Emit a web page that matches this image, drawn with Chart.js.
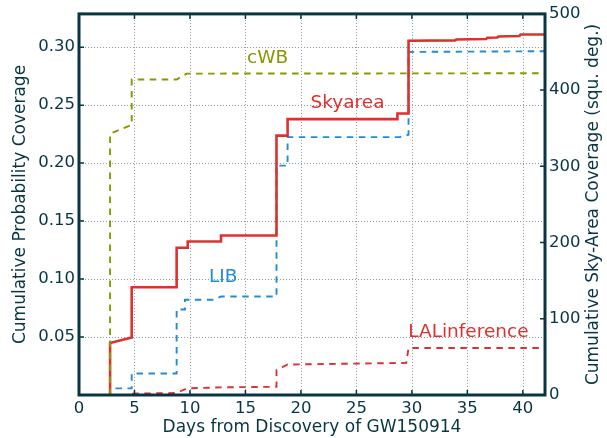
<!DOCTYPE html>
<html>
<head>
<meta charset="utf-8">
<script src="https://cdn.jsdelivr.net/npm/chart.js@4.4.1/dist/chart.umd.min.js"></script>
<style>
html,body{margin:0;padding:0;background:#fff;}
#wrap{width:607px;height:438px;position:relative;}
</style>
</head>
<body>
<div id="wrap"><canvas id="c" width="607" height="438"></canvas></div>
<script>
// ---- data ----
const cwbDays   = [2.8, 2.8, 4.75, 4.75, 8.8, 9.7, 42];
const cwbProb   = [0, 0.2253, 0.2330, 0.2721, 0.2721, 0.2772, 0.2775];

const skyDays   = [2.8, 2.8, 4.75, 4.75, 8.8, 8.8, 9.8, 9.8, 12.8, 12.8, 17.8, 17.8, 18.8, 18.8, 28.7, 28.7, 29.7, 29.7, 33.9, 34.0, 36.7, 36.8, 37.7, 37.8, 39.7, 39.8, 42];
const skyArea   = [0, 68.3, 75.3, 141.4, 141.4, 193.2, 193.2, 201.4, 201.4, 209.3, 209.3, 340.3, 340.3, 362, 362, 369.4, 369.4, 464.8, 465.3, 466.5, 467.0, 468.7, 469.0, 470.4, 471.0, 473.0, 473.0];

const libDays   = [2.8, 2.8, 4.75, 4.75, 8.8, 8.8, 9.55, 9.55, 12.1, 12.8, 17.8, 17.8, 18.8, 18.8, 28.9, 29.7, 29.7, 42];
const libProb   = [0, 0.0057, 0.0057, 0.0186, 0.0186, 0.0738, 0.0738, 0.0821, 0.0821, 0.0849, 0.0849, 0.1978, 0.1978, 0.2224, 0.2224, 0.2245, 0.2959, 0.2965];

const laDays    = [4.8, 8.8, 9.7, 12.8, 17.8, 17.8, 18.8, 29.5, 29.7, 42];
const laProb    = [0.0012, 0.0017, 0.0057, 0.0066, 0.0071, 0.0214, 0.0263, 0.0277, 0.0406, 0.0406];

const xTicks     = [0, 5, 10, 15, 20, 25, 30, 35, 40];
const leftTicks  = [0.05, 0.10, 0.15, 0.20, 0.25, 0.30];
const rightTicks = [0, 100, 200, 300, 400, 500];

const seriesNames = ['cWB', 'Skyarea', 'LIB', 'LALinference'];
const xTitle = 'Days from Discovery of GW150914';
const leftTitle = 'Cumulative Probability Coverage';
const rightTitle = 'Cumulative Sky-Area Coverage (squ. deg.)';

// ---- styling ----
const INK = '#073642';
const OLIVE = '#859900', RED = '#dc322f', BLUE = '#268bd2';
const FONT = "'DejaVu Sans', sans-serif";
const DASH = [6.5, 5.5];

const labelPos = [
  {text: seriesNames[0], x: 17.0, y: 0.2907, color: OLIVE},
  {text: seriesNames[1], x: 24.2, y: 0.2521, color: RED},
  {text: seriesNames[2], x: 13.0, y: 0.1012, color: BLUE},
  {text: seriesNames[3], x: 35.1, y: 0.0540, color: RED}
];

function pts(xs, ys){ return xs.map((x,i)=>({x:x, y:ys[i]})); }

const frame = {
  id: 'frame',
  beforeDatasetsDraw(chart){
    const ctx = chart.ctx, a = chart.chartArea;
    const sx = chart.scales.x, sl = chart.scales.y;
    ctx.save();
    ctx.strokeStyle = '#8a9999'; ctx.lineWidth = 1; ctx.setLineDash([1,2]);
    ctx.beginPath();
    xTicks.forEach(v => {
      const p = Math.round(sx.getPixelForValue(v)) + 0.5;
      if (v > 0) { ctx.moveTo(p, a.top); ctx.lineTo(p, a.bottom); }
    });
    leftTicks.forEach(v => {
      const p = Math.round(sl.getPixelForValue(v)) + 0.5;
      ctx.moveTo(a.left, p); ctx.lineTo(a.right, p);
    });
    ctx.stroke();
    ctx.restore();
  },
  afterDatasetsDraw(chart){
    const ctx = chart.ctx, a = chart.chartArea;
    const sx = chart.scales.x, sl = chart.scales.y, sr = chart.scales.y2;
    ctx.save();
    // labels
    ctx.font = "18.5px " + FONT;
    ctx.textAlign = 'center'; ctx.textBaseline = 'middle';
    labelPos.forEach(l => {
      ctx.fillStyle = l.color;
      ctx.fillText(l.text, sx.getPixelForValue(l.x), sl.getPixelForValue(l.y));
    });
    // inward ticks
    ctx.strokeStyle = INK; ctx.lineWidth = 1.5;
    ctx.beginPath();
    xTicks.forEach(v => {
      const p = sx.getPixelForValue(v);
      ctx.moveTo(p, a.bottom); ctx.lineTo(p, a.bottom - 5);
      ctx.moveTo(p, a.top); ctx.lineTo(p, a.top + 5);
    });
    leftTicks.forEach(v => {
      const p = sl.getPixelForValue(v);
      ctx.moveTo(a.left, p); ctx.lineTo(a.left + 5, p);
    });
    rightTicks.forEach(v => {
      const p = sr.getPixelForValue(v);
      ctx.moveTo(a.right, p); ctx.lineTo(a.right - 5, p);
    });
    ctx.stroke();
    // box
    ctx.lineWidth = 3;
    ctx.strokeRect(a.left, a.top, a.right - a.left, a.bottom - a.top);
    // axis titles
    ctx.fillStyle = INK;
    ctx.font = "17px " + FONT;
    ctx.textAlign = 'center'; ctx.textBaseline = 'middle';
    ctx.fillText(xTitle, (a.left + a.right) / 2, 428);
    const cy = (a.top + a.bottom) / 2;
    ctx.save(); ctx.translate(21, cy); ctx.rotate(-Math.PI / 2);
    ctx.fillText(leftTitle, 0, 0); ctx.restore();
    ctx.save(); ctx.translate(594, cy); ctx.rotate(-Math.PI / 2);
    ctx.fillText(rightTitle, 0, 0); ctx.restore();
    ctx.restore();
  }
};

new Chart(document.getElementById('c'), {
  type: 'line',
  data: {
    datasets: [
      {label: seriesNames[0], data: pts(cwbDays, cwbProb), yAxisID: 'y', borderColor: OLIVE, borderWidth: 1.9, borderDash: DASH, pointRadius: 0, tension: 0},
      {label: seriesNames[1], data: pts(skyDays, skyArea), yAxisID: 'y2', borderColor: RED, borderWidth: 2.6, pointRadius: 0, tension: 0},
      {label: seriesNames[2], data: pts(libDays, libProb), yAxisID: 'y', borderColor: BLUE, borderWidth: 1.9, borderDash: DASH, pointRadius: 0, tension: 0},
      {label: seriesNames[3], data: pts(laDays, laProb), yAxisID: 'y', borderColor: RED, borderWidth: 1.9, borderDash: DASH, pointRadius: 0, tension: 0}
    ]
  },
  options: {
    responsive: false,
    animation: false,
    layout: {padding: {top: 11, left: 0, right: 0, bottom: 0}},
    plugins: {legend: {display: false}, tooltip: {enabled: false}},
    scales: {
      x: {
        type: 'linear', min: 0, max: 42,
        afterBuildTicks(s){ s.ticks = xTicks.map(v=>({value:v})); },
        afterFit(s){ s.height = 43; },
        grid: {display: false, drawTicks: false},
        border: {display: false},
        ticks: {color: INK, font: {family: FONT, size: 16.5}, padding: 4, maxRotation: 0, callback: v => String(v)},
        title: {display: false}
      },
      y: {
        type: 'linear', position: 'left', min: 0, max: 0.3287,
        afterBuildTicks(s){ s.ticks = leftTicks.map(v=>({value:v})); },
        afterFit(s){ s.width = 79; },
        grid: {display: false, drawTicks: false},
        border: {display: false},
        ticks: {color: INK, font: {family: FONT, size: 16.5}, padding: 4, callback: v => v.toFixed(2)},
        title: {display: false}
      },
      y2: {
        type: 'linear', position: 'right', min: 0, max: 500,
        afterBuildTicks(s){ s.ticks = rightTicks.map(v=>({value:v})); },
        afterFit(s){ s.width = 62; },
        grid: {display: false, drawTicks: false},
        border: {display: false},
        ticks: {color: INK, font: {family: FONT, size: 16.5}, padding: 4, callback: v => String(v)},
        title: {display: false}
      }
    }
  },
  plugins: [frame]
});
</script>
</body>
</html>
